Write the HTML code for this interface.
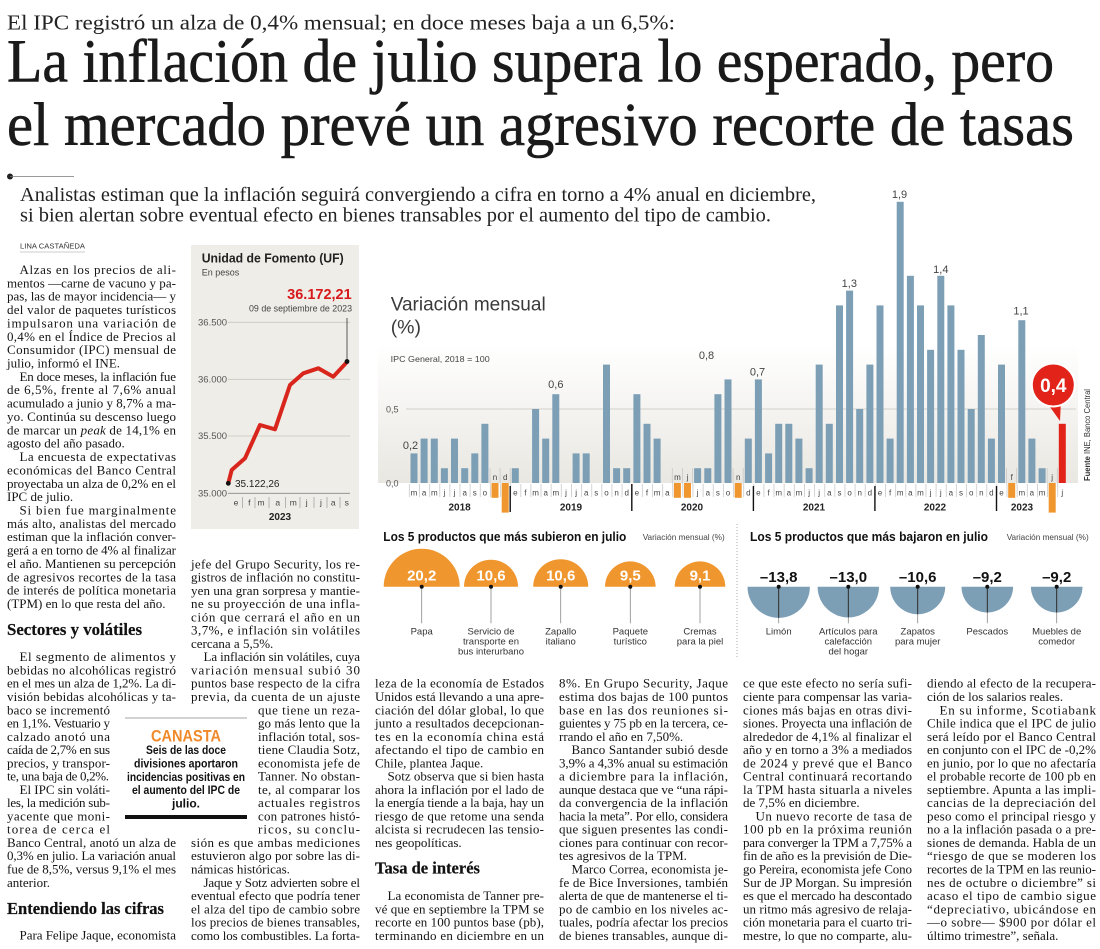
<!DOCTYPE html>
<html lang="es">
<head>
<meta charset="utf-8">
<title>La inflación de julio supera lo esperado</title>
<style>
  html,body{margin:0;padding:0;background:#fff;}
  body{width:1100px;height:949px;overflow:hidden;}
  svg{display:block;}
  .b{font-family:"Liberation Serif",serif;font-size:13px;fill:#141414;}
  .h{font-family:"Liberation Serif",serif;font-size:17px;font-weight:bold;fill:#111;stroke:#111;stroke-width:0.2;}
  .s{font-family:"Liberation Sans",sans-serif;}
  .n{font-family:"Liberation Sans Narrow","Liberation Sans",sans-serif;}
</style>
</head>
<body>
<svg width="1100" height="949" viewBox="0 0 1100 949" xmlns="http://www.w3.org/2000/svg">
<defs>
  <linearGradient id="bg" x1="0" y1="0" x2="0" y2="1">
    <stop offset="0" stop-color="#ffffff"/>
    <stop offset="1" stop-color="#e9e7e1"/>
  </linearGradient>
  <pattern id="sep" patternUnits="userSpaceOnUse" x="408.93" y="0" width="10.13" height="20">
    <rect x="0" y="0" width="0.8" height="20" fill="#c9c9c9"/>
  </pattern>
</defs>
<rect x="0" y="0" width="1100" height="949" fill="#fff"/>

<!-- ===== HEADER ===== -->
<text x="7" y="29.3" font-family="Liberation Serif,serif" font-size="21.6" fill="#222" textLength="668" lengthAdjust="spacingAndGlyphs">El IPC registró un alza de 0,4% mensual; en doce meses baja a un 6,5%:</text>
<text x="7" y="81.7" font-family="Liberation Serif,serif" font-size="61" fill="#1a1a1a" stroke="#1a1a1a" stroke-width="0.6" textLength="1047" lengthAdjust="spacingAndGlyphs">La inflación de julio supera lo esperado, pero</text>
<text x="7" y="145" font-family="Liberation Serif,serif" font-size="61" fill="#1a1a1a" stroke="#1a1a1a" stroke-width="0.6" textLength="1067" lengthAdjust="spacingAndGlyphs">el mercado prevé un agresivo recorte de tasas</text>
<circle cx="10" cy="176.5" r="3" fill="#222"/>
<line x1="10" y1="176.5" x2="74" y2="176.5" stroke="#777" stroke-width="0.8"/>
<text x="20" y="201" font-family="Liberation Serif,serif" font-size="19.5" fill="#222" textLength="796" lengthAdjust="spacingAndGlyphs">Analistas estiman que la inflación seguirá convergiendo a cifra en torno a 4% anual en diciembre,</text>
<text x="20" y="221.7" font-family="Liberation Serif,serif" font-size="19.5" fill="#222" textLength="751" lengthAdjust="spacingAndGlyphs">si bien alertan sobre eventual efecto en bienes transables por el aumento del tipo de cambio.</text>

<text x="20" y="248.5" class="s" font-size="7.5" fill="#333" textLength="65" lengthAdjust="spacingAndGlyphs">LINA CASTAÑEDA</text>
<line x1="20" y1="252" x2="85" y2="252" stroke="#999" stroke-width="0.6"/>

<!-- ===== UF CHART ===== -->
<rect x="191" y="245" width="168" height="284" fill="#efede7"/>
<text x="201.7" y="262.5" class="s" font-size="12.5" font-weight="bold" fill="#222" textLength="142" lengthAdjust="spacingAndGlyphs">Unidad de Fomento (UF)</text>
<text x="201.7" y="275.5" class="s" font-size="9" fill="#444">En pesos</text>
<text x="351.7" y="299" class="s" font-size="14.5" font-weight="bold" fill="#d7191c" text-anchor="end">36.172,21</text>
<text x="352" y="311.5" class="s" font-size="9" fill="#444" text-anchor="end" textLength="103" lengthAdjust="spacingAndGlyphs">09 de septiembre de 2023</text>
<g stroke="#cac6be" stroke-width="0.8">
  <line x1="228" y1="322.3" x2="350" y2="322.3"/>
  <line x1="228" y1="379.3" x2="350" y2="379.3"/>
  <line x1="228" y1="436" x2="350" y2="436"/>
</g>
<line x1="228" y1="493.3" x2="350" y2="493.3" stroke="#888" stroke-width="0.8"/>
<g class="s" font-size="9.5" fill="#555">
  <text x="198" y="325.5">36.500</text>
  <text x="198" y="382.5">36.000</text>
  <text x="198" y="439.2">35.500</text>
  <text x="198" y="496.5">35.000</text>
</g>
<g stroke="#999" stroke-width="0.7">
  <line x1="242.5" y1="497" x2="242.5" y2="508"/>
  <line x1="255" y1="497" x2="255" y2="508"/>
  <line x1="269" y1="497" x2="269" y2="508"/>
  <line x1="285.5" y1="497" x2="285.5" y2="508"/>
  <line x1="300" y1="497" x2="300" y2="508"/>
  <line x1="314" y1="497" x2="314" y2="508"/>
  <line x1="327" y1="497" x2="327" y2="508"/>
  <line x1="340" y1="497" x2="340" y2="508"/>
</g>
<text y="505.5" class="s" font-size="8.5" fill="#444" text-anchor="middle" x="236 249.3 261 277.7 293.3 306.7 321 333.3 346.7">efmamjjas</text>
<text x="280" y="520" class="s" font-size="10" font-weight="bold" fill="#222" text-anchor="middle">2023</text>
<line x1="347" y1="318" x2="347" y2="361" stroke="#333" stroke-width="0.8"/>
<polyline points="228.3,483.3 231.7,470 245,458.3 260,425 275,429.3 290,385 303.3,373.3 318.3,368.3 333.3,376.7 346.7,362.3" fill="none" stroke="#d9261c" stroke-width="4" stroke-linejoin="round" stroke-linecap="round"/>
<circle cx="228.3" cy="483.3" r="2.4" fill="#111"/>
<circle cx="347" cy="361.5" r="2.4" fill="#111"/>
<text x="235" y="486.8" class="s" font-size="10" fill="#222">35.122,26</text>

<!-- ===== BAR CHART ===== -->
<rect x="378" y="345" width="700" height="138" fill="url(#bg)"/>
<text x="390.7" y="310.7" class="s" font-size="19.5" fill="#3a3a3a" textLength="155" lengthAdjust="spacingAndGlyphs">Variación mensual</text>
<text x="390.7" y="333.3" class="s" font-size="19.5" fill="#3a3a3a">(%)</text>
<text x="390.7" y="362" class="s" font-size="8.5" fill="#444" textLength="99" lengthAdjust="spacingAndGlyphs">IPC General, 2018 = 100</text>
<line x1="406" y1="409" x2="1076" y2="409" stroke="#c8c6c0" stroke-width="0.8"/>
<text x="386" y="412.5" class="s" font-size="9" fill="#555">0,5</text>
<text x="386" y="486.5" class="s" font-size="9" fill="#555">0,0</text>

<!-- label row separators -->
<rect x="408" y="484" width="658" height="13" fill="url(#sep)"/>
<g stroke="#c9c9c9" stroke-width="0.8">
  <line x1="490" y1="468" x2="490" y2="484"/><line x1="500.1" y1="468" x2="500.1" y2="484"/><line x1="510.2" y1="468" x2="510.2" y2="484"/>
  <line x1="672.3" y1="468" x2="672.3" y2="484"/><line x1="682.5" y1="468" x2="682.5" y2="484"/><line x1="692.6" y1="468" x2="692.6" y2="484"/>
  <line x1="733.1" y1="468" x2="733.1" y2="484"/><line x1="743.2" y1="468" x2="743.2" y2="484"/>
  <line x1="1006.6" y1="468" x2="1006.6" y2="484"/><line x1="1016.7" y1="468" x2="1016.7" y2="484"/>
  <line x1="1047.2" y1="468" x2="1047.2" y2="484"/><line x1="1057.3" y1="468" x2="1057.3" y2="484"/>
</g>

<g fill="#7d9fb6">
  <rect x="410.5" y="453.4" width="7" height="29.6"/>
  <rect x="420.6" y="438.6" width="7" height="44.4"/>
  <rect x="430.8" y="438.6" width="7" height="44.4"/>
  <rect x="440.9" y="468.2" width="7" height="14.8"/>
  <rect x="451.0" y="438.6" width="7" height="44.4"/>
  <rect x="461.2" y="468.2" width="7" height="14.8"/>
  <rect x="471.3" y="453.4" width="7" height="29.6"/>
  <rect x="481.4" y="423.8" width="7" height="59.2"/>
  <rect x="511.8" y="468.2" width="7" height="14.8"/>
  <rect x="532.1" y="409" width="7" height="74"/>
  <rect x="542.2" y="438.6" width="7" height="44.4"/>
  <rect x="552.3" y="394.2" width="7" height="88.8"/>
  <rect x="572.6" y="453.4" width="7" height="29.6"/>
  <rect x="582.7" y="453.4" width="7" height="29.6"/>
  <rect x="603.0" y="364.6" width="7" height="118.4"/>
  <rect x="613.1" y="468.2" width="7" height="14.8"/>
  <rect x="623.2" y="468.2" width="7" height="14.8"/>
  <rect x="633.4" y="394.2" width="7" height="88.8"/>
  <rect x="643.5" y="423.8" width="7" height="59.2"/>
  <rect x="653.6" y="438.6" width="7" height="44.4"/>
  <rect x="694.1" y="468.2" width="7" height="14.8"/>
  <rect x="704.3" y="468.2" width="7" height="14.8"/>
  <rect x="714.4" y="394.2" width="7" height="88.8"/>
  <rect x="724.5" y="379.4" width="7" height="103.6"/>
  <rect x="744.8" y="438.6" width="7" height="44.4"/>
  <rect x="754.9" y="379.4" width="7" height="103.6"/>
  <rect x="765.1" y="453.4" width="7" height="29.6"/>
  <rect x="775.2" y="423.8" width="7" height="59.2"/>
  <rect x="785.3" y="423.8" width="7" height="59.2"/>
  <rect x="795.4" y="438.6" width="7" height="44.4"/>
  <rect x="805.6" y="468.2" width="7" height="14.8"/>
  <rect x="815.7" y="364.6" width="7" height="118.4"/>
  <rect x="825.8" y="423.8" width="7" height="59.2"/>
  <rect x="836.0" y="305.4" width="7" height="177.6"/>
  <rect x="846.1" y="290.6" width="7" height="192.4"/>
  <rect x="856.2" y="409" width="7" height="74"/>
  <rect x="866.4" y="364.6" width="7" height="118.4"/>
  <rect x="876.5" y="305.4" width="7" height="177.6"/>
  <rect x="886.6" y="438.6" width="7" height="44.4"/>
  <rect x="896.7" y="201.8" width="7" height="281.2"/>
  <rect x="906.9" y="275.8" width="7" height="207.2"/>
  <rect x="917.0" y="305.4" width="7" height="177.6"/>
  <rect x="927.1" y="349.8" width="7" height="133.2"/>
  <rect x="937.3" y="275.8" width="7" height="207.2"/>
  <rect x="947.4" y="305.4" width="7" height="177.6"/>
  <rect x="957.5" y="349.8" width="7" height="133.2"/>
  <rect x="967.7" y="409" width="7" height="74"/>
  <rect x="977.8" y="335" width="7" height="148"/>
  <rect x="987.9" y="438.6" width="7" height="44.4"/>
  <rect x="998.0" y="364.6" width="7" height="118.4"/>
  <rect x="1018.3" y="320.2" width="7" height="162.8"/>
  <rect x="1028.4" y="438.6" width="7" height="44.4"/>
  <rect x="1038.6" y="468.2" width="7" height="14.8"/>
</g>
<g fill="#f0962e">
  <rect x="491.5" y="483" width="7" height="14.8"/>
  <rect x="501.7" y="483" width="7" height="29.6"/>
  <rect x="673.9" y="483" width="7" height="14.8"/>
  <rect x="684.0" y="483" width="7" height="14.8"/>
  <rect x="734.7" y="483" width="7" height="14.8"/>
  <rect x="1008.2" y="483" width="7" height="14.8"/>
  <rect x="1048.7" y="483" width="7" height="29.6"/>
</g>
<rect x="1058.8" y="423.8" width="7" height="59.2" fill="#e2231a"/>

<!-- month letters -->
<text class="s" font-size="8" fill="#444" text-anchor="middle"
 x="414.0 424.1 434.3 444.4 454.5 464.7 474.8 484.9 495.0 505.2 515.3 525.4 535.6 545.7 555.8 566.0 576.1 586.2 596.3 606.5 616.6 626.7 636.9 647.0 657.1 667.3 677.4 687.5 697.6 707.8 717.9 728.0 738.2 748.3 758.4 768.6 778.7 788.8 798.9 809.1 819.2 829.3 839.5 849.6 859.7 869.9 880.0 890.1 900.2 910.4 920.5 930.6 940.8 950.9 961.0 971.2 981.3 991.4 1001.5 1011.7 1021.8 1031.9 1042.1 1052.2 1062.3"
 y="495.5 495.5 495.5 495.5 495.5 495.5 495.5 495.5 480 480 495.5 495.5 495.5 495.5 495.5 495.5 495.5 495.5 495.5 495.5 495.5 495.5 495.5 495.5 495.5 495.5 480 480 495.5 495.5 495.5 495.5 480 495.5 495.5 495.5 495.5 495.5 495.5 495.5 495.5 495.5 495.5 495.5 495.5 495.5 495.5 495.5 495.5 495.5 495.5 495.5 495.5 495.5 495.5 495.5 495.5 495.5 495.5 480 495.5 495.5 495.5 480 495.5">mamjjasondefmamjjasondefmamjjasondefmamjjasondefmamjjasondefmamjj</text>

<!-- year separators -->
<g stroke="#111" stroke-width="1.4">
  <line x1="510.2" y1="486" x2="510.2" y2="512"/>
  <line x1="631.8" y1="484" x2="631.8" y2="511"/>
  <line x1="753.4" y1="486" x2="753.4" y2="511"/>
  <line x1="874.9" y1="486" x2="874.9" y2="511"/>
  <line x1="996.5" y1="486" x2="996.5" y2="511"/>
</g>
<g class="s" font-size="10" font-weight="bold" fill="#222" text-anchor="middle">
  <text x="459.6" y="510.5">2018</text>
  <text x="571" y="510.5">2019</text>
  <text x="692" y="510.5">2020</text>
  <text x="814" y="510.5">2021</text>
  <text x="935" y="510.5">2022</text>
  <text x="1022" y="510.5">2023</text>
</g>

<!-- value labels -->
<g class="s" font-size="11" fill="#444" text-anchor="middle">
  <text x="410.5" y="449">0,2</text>
  <text x="555.8" y="388">0,6</text>
  <text x="706.5" y="359">0,8</text>
  <text x="757.5" y="375.5">0,7</text>
  <text x="849.3" y="287">1,3</text>
  <text x="899.5" y="198">1,9</text>
  <text x="940.8" y="273">1,4</text>
  <text x="1021" y="314.5">1,1</text>
</g>

<!-- red bubble -->
<polygon points="1045,400 1061,400 1060,421" fill="#e2231a"/>
<circle cx="1053.3" cy="385" r="21.5" fill="#e2231a" stroke="#fff" stroke-width="2"/>
<text x="1053.3" y="392" class="s" font-size="19" font-weight="bold" fill="#fff" text-anchor="middle">0,4</text>

<text transform="translate(1090,481) rotate(-90)" class="s" font-size="8" fill="#333" textLength="92" lengthAdjust="spacingAndGlyphs"><tspan font-weight="bold">Fuente</tspan> INE, Banco Central</text>

<!-- ===== PRODUCTS ===== -->
<text x="383.3" y="541" class="n" font-size="13" font-weight="bold" fill="#111" textLength="243" lengthAdjust="spacingAndGlyphs">Los 5 productos que más subieron en julio</text>
<text x="642.7" y="540" class="n" font-size="8.5" fill="#444" textLength="82" lengthAdjust="spacingAndGlyphs">Variación mensual (%)</text>
<text x="750" y="541" class="n" font-size="13" font-weight="bold" fill="#111" textLength="238" lengthAdjust="spacingAndGlyphs">Los 5 productos que más bajaron en julio</text>
<text x="1006.7" y="540" class="n" font-size="8.5" fill="#444" textLength="82" lengthAdjust="spacingAndGlyphs">Variación mensual (%)</text>
<line x1="737" y1="524" x2="737" y2="658" stroke="#999" stroke-width="0.8" stroke-dasharray="1,2"/>

<g fill="#f0962e">
  <path d="M383.7,586.7 A38,38 0 0 1 459.7,586.7 Z"/>
  <path d="M464,586.7 A27,27 0 0 1 518,586.7 Z"/>
  <path d="M533.2,586.7 A27.5,27.5 0 0 1 588.2,586.7 Z"/>
  <path d="M605,586.7 A25.3,25.3 0 0 1 655.6,586.7 Z"/>
  <path d="M674.7,586.7 A25.3,25.3 0 0 1 725.3,586.7 Z"/>
</g>
<g fill="#7d9fb6">
  <path d="M747.5,586.7 A31.2,31.2 0 0 0 809.9,586.7 Z"/>
  <path d="M817.6,586.7 A30.7,30.7 0 0 0 879,586.7 Z"/>
  <path d="M890.2,586.7 A27.5,27.5 0 0 0 945.2,586.7 Z"/>
  <path d="M961.5,586.7 A25.8,25.8 0 0 0 1013.1,586.7 Z"/>
  <path d="M1030.9,586.7 A25.8,25.8 0 0 0 1082.5,586.7 Z"/>
</g>
<g stroke="#888" stroke-width="0.8">
  <line x1="421.7" y1="586.7" x2="421.7" y2="623.3"/>
  <line x1="491" y1="586.7" x2="491" y2="623.3"/>
  <line x1="560.7" y1="586.7" x2="560.7" y2="623.3"/>
  <line x1="630.3" y1="586.7" x2="630.3" y2="623.3"/>
  <line x1="700" y1="586.7" x2="700" y2="623.3"/>
  <line x1="778.7" y1="586.7" x2="778.7" y2="623.3"/>
  <line x1="848.3" y1="586.7" x2="848.3" y2="623.3"/>
  <line x1="917.7" y1="586.7" x2="917.7" y2="623.3"/>
  <line x1="987.3" y1="586.7" x2="987.3" y2="623.3"/>
  <line x1="1056.7" y1="586.7" x2="1056.7" y2="623.3"/>
</g>
<g stroke="#222" stroke-width="0.9">
  <line x1="778.7" y1="586.7" x2="778.7" y2="617.9"/>
  <line x1="848.3" y1="586.7" x2="848.3" y2="617.4"/>
  <line x1="917.7" y1="586.7" x2="917.7" y2="614.2"/>
  <line x1="987.3" y1="586.7" x2="987.3" y2="612.5"/>
  <line x1="1056.7" y1="586.7" x2="1056.7" y2="612.5"/>
</g>
<g fill="#111">
  <circle cx="421.7" cy="586.7" r="2"/><circle cx="491" cy="586.7" r="2"/><circle cx="560.7" cy="586.7" r="2"/><circle cx="630.3" cy="586.7" r="2"/><circle cx="700" cy="586.7" r="2"/>
  <circle cx="778.7" cy="586.7" r="2"/><circle cx="848.3" cy="586.7" r="2"/><circle cx="917.7" cy="586.7" r="2"/><circle cx="987.3" cy="586.7" r="2"/><circle cx="1056.7" cy="586.7" r="2"/>
</g>
<g class="s" font-size="15" font-weight="bold" fill="#fff" text-anchor="middle">
  <text x="421.7" y="580.5">20,2</text>
  <text x="491" y="580.5">10,6</text>
  <text x="560.7" y="580.5">10,6</text>
  <text x="630.3" y="580.5">9,5</text>
  <text x="700" y="580.5">9,1</text>
</g>
<g class="s" font-size="15" font-weight="bold" fill="#111" text-anchor="middle">
  <text x="778.7" y="582">–13,8</text>
  <text x="848.3" y="582">–13,0</text>
  <text x="917.7" y="582">–10,6</text>
  <text x="987.3" y="582">–9,2</text>
  <text x="1056.7" y="582">–9,2</text>
</g>
<g class="n" font-size="9.5" fill="#333" text-anchor="middle">
  <text x="421.7" y="634.5">Papa</text>
  <text x="491" y="634.5">Servicio de</text><text x="491" y="644.5">transporte en</text><text x="491" y="654.5">bus interurbano</text>
  <text x="560.7" y="634.5">Zapallo</text><text x="560.7" y="644.5">italiano</text>
  <text x="630.3" y="634.5">Paquete</text><text x="630.3" y="644.5">turístico</text>
  <text x="700" y="634.5">Cremas</text><text x="700" y="644.5">para la piel</text>
  <text x="778.7" y="634.5">Limón</text>
  <text x="848.3" y="634.5">Artículos para</text><text x="848.3" y="644.5">calefacción</text><text x="848.3" y="654.5">del hogar</text>
  <text x="917.7" y="634.5">Zapatos</text><text x="917.7" y="644.5">para mujer</text>
  <text x="987.3" y="634.5">Pescados</text>
  <text x="1056.7" y="634.5">Muebles de</text><text x="1056.7" y="644.5">comedor</text>
</g>

<!-- ===== CANASTA BOX ===== -->
<line x1="125" y1="718" x2="247" y2="718" stroke="#888" stroke-width="0.8"/>
<text x="186" y="741.5" class="n" font-size="17" font-weight="bold" fill="#f0892a" text-anchor="middle" textLength="70" lengthAdjust="spacingAndGlyphs">CANASTA</text>
<g class="n" font-size="12" font-weight="bold" fill="#111" text-anchor="middle">
  <text x="186" y="754" textLength="80" lengthAdjust="spacingAndGlyphs">Seis de las doce</text>
  <text x="186" y="767.5" textLength="104" lengthAdjust="spacingAndGlyphs">divisiones aportaron</text>
  <text x="186" y="781" textLength="118" lengthAdjust="spacingAndGlyphs">incidencias positivas en</text>
  <text x="186" y="794" textLength="108" lengthAdjust="spacingAndGlyphs">el aumento del IPC de</text>
  <text x="186" y="807.5">julio.</text>
</g>
<rect x="125" y="815" width="122" height="4" fill="#111"/>

<!-- ===== BODY COLUMN 1 ===== -->
<g class="b">
<text x="19.5" y="274" textLength="156.5">Alzas en los precios de ali-</text>
<text x="7" y="287.4" textLength="169">mentos —carne de vacuno y pa-</text>
<text x="7" y="300.7" textLength="169">pas, las de mayor incidencia— y</text>
<text x="7" y="314.1" textLength="169">del valor de paquetes turísticos</text>
<text x="7" y="327.4" textLength="169">impulsaron una variación de</text>
<text x="7" y="340.8" textLength="169">0,4% en el Índice de Precios al</text>
<text x="7" y="354.2" textLength="169">Consumidor (IPC) mensual de</text>
<text x="7" y="367.5">julio, informó el INE.</text>
<text x="19.5" y="380.9" textLength="156.5">En doce meses, la inflación fue</text>
<text x="7" y="394.2" textLength="169">de 6,5%, frente al 7,6% anual</text>
<text x="7" y="407.6" textLength="169">acumulado a junio y 8,7% a ma-</text>
<text x="7" y="421" textLength="169">yo. Continúa su descenso luego</text>
<text x="7" y="434.3" textLength="169">de marcar un <tspan font-style="italic">peak</tspan> de 14,1% en</text>
<text x="7" y="447.7">agosto del año pasado.</text>
<text x="19.5" y="461" textLength="156.5">La encuesta de expectativas</text>
<text x="7" y="474.4" textLength="169">económicas del Banco Central</text>
<text x="7" y="487.8" textLength="169">proyectaba un alza de 0,2% en el</text>
<text x="7" y="501.1">IPC de julio.</text>
<text x="19.5" y="514.5" textLength="156.5">Si bien fue marginalmente</text>
<text x="7" y="527.8" textLength="169">más alto, analistas del mercado</text>
<text x="7" y="541.2" textLength="169">estiman que la inflación conver-</text>
<text x="7" y="554.6" textLength="169">gerá a en torno de 4% al finalizar</text>
<text x="7" y="567.9" textLength="169">el año. Mantienen su percepción</text>
<text x="7" y="581.3" textLength="169">de agresivos recortes de la tasa</text>
<text x="7" y="594.6" textLength="169">de interés de política monetaria</text>
<text x="7" y="608">(TPM) en lo que resta del año.</text>

<text x="19.5" y="661.2" textLength="156.5">El segmento de alimentos y</text>
<text x="7" y="674.5" textLength="169">bebidas no alcohólicas registró</text>
<text x="7" y="687.7" textLength="169">en el mes un alza de 1,2%. La di-</text>
<text x="7" y="701" textLength="169">visión bebidas alcohólicas y ta-</text>
<text x="7" y="714.3" textLength="103">baco se incrementó</text>
<text x="7" y="727.5" textLength="103">en 1,1%. Vestuario y</text>
<text x="7" y="740.8" textLength="103">calzado anotó una</text>
<text x="7" y="754.1" textLength="103">caída de 2,7% en sus</text>
<text x="7" y="767.4" textLength="103">precios, y transpor-</text>
<text x="7" y="780.6" textLength="102">te, una baja de 0,2%.</text>
<text x="19.5" y="793.9" textLength="90.5">El IPC sin voláti-</text>
<text x="7" y="807.2" textLength="103">les, la medición sub-</text>
<text x="7" y="820.4" textLength="103">yacente que moni-</text>
<text x="7" y="833.7" textLength="103">torea de cerca el</text>
<text x="7" y="847" textLength="169">Banco Central, anotó un alza de</text>
<text x="7" y="860.2" textLength="169">0,3% en julio. La variación anual</text>
<text x="7" y="873.5" textLength="169">fue de 8,5%, versus 9,1% el mes</text>
<text x="7" y="886.8">anterior.</text>
<text x="19.5" y="939.5" textLength="156.5">Para Felipe Jaque, economista</text>
</g>
<text x="7" y="635" class="h" textLength="135" lengthAdjust="spacingAndGlyphs">Sectores y volátiles</text>
<text x="7" y="914" class="h" textLength="157" lengthAdjust="spacingAndGlyphs">Entendiendo las cifras</text>

<!-- ===== BODY COLUMN 2 ===== -->
<g class="b">
<text x="191" y="568.3" textLength="169">jefe del Grupo Security, los re-</text>
<text x="191" y="581.6" textLength="169">gistros de inflación no constitu-</text>
<text x="191" y="594.8" textLength="169">yen una gran sorpresa y mantie-</text>
<text x="191" y="608.1" textLength="169">ne su proyección de una infla-</text>
<text x="191" y="621.4" textLength="169">ción que cerrará el año en un</text>
<text x="191" y="634.7" textLength="169">3,7%, e inflación sin volátiles</text>
<text x="191" y="647.9">cercana a 5,5%.</text>
<text x="203.5" y="661.2" textLength="156.5">La inflación sin volátiles, cuya</text>
<text x="191" y="674.5" textLength="169">variación mensual subió 30</text>
<text x="191" y="687.7" textLength="169">puntos base respecto de la cifra</text>
<text x="191" y="701" textLength="169">previa, da cuenta de un ajuste</text>
<text x="258" y="714.3" textLength="102">que tiene un reza-</text>
<text x="258" y="727.5" textLength="102">go más lento que la</text>
<text x="258" y="740.8" textLength="102">inflación total, sos-</text>
<text x="258" y="754.1" textLength="102">tiene Claudia Sotz,</text>
<text x="258" y="767.4" textLength="102">economista jefe de</text>
<text x="258" y="780.6" textLength="102">Tanner. No obstan-</text>
<text x="258" y="793.9" textLength="102">te, al comparar los</text>
<text x="258" y="807.2" textLength="102">actuales registros</text>
<text x="258" y="820.4" textLength="102">con patrones histó-</text>
<text x="258" y="833.7" textLength="102">ricos, su conclu-</text>
<text x="191" y="847" textLength="169">sión es que ambas mediciones</text>
<text x="191" y="860.2" textLength="169">estuvieron algo por sobre las di-</text>
<text x="191" y="873.5">námicas históricas.</text>
<text x="203.5" y="886.8" textLength="156.5">Jaque y Sotz advierten sobre el</text>
<text x="191" y="900.1" textLength="169">eventual efecto que podría tener</text>
<text x="191" y="913.3" textLength="169">el alza del tipo de cambio sobre</text>
<text x="191" y="926.6" textLength="169">los precios de bienes transables,</text>
<text x="191" y="939.9" textLength="169">como los combustibles. La forta-</text>
</g>

<!-- ===== BODY COLUMN 3 ===== -->
<g class="b">
<text x="375" y="687.7" textLength="169">leza de la economía de Estados</text>
<text x="375" y="701" textLength="169">Unidos está llevando a una apre-</text>
<text x="375" y="714.3" textLength="169">ciación del dólar global, lo que</text>
<text x="375" y="727.5" textLength="169">junto a resultados decepcionan-</text>
<text x="375" y="740.8" textLength="169">tes en la economía china está</text>
<text x="375" y="754.1" textLength="169">afectando el tipo de cambio en</text>
<text x="375" y="767.4">Chile, plantea Jaque.</text>
<text x="387.5" y="780.6" textLength="156.5">Sotz observa que si bien hasta</text>
<text x="375" y="793.9" textLength="169">ahora la inflación por el lado de</text>
<text x="375" y="807.2" textLength="169">la energía tiende a la baja, hay un</text>
<text x="375" y="820.4" textLength="169">riesgo de que retome una senda</text>
<text x="375" y="833.7" textLength="169">alcista si recrudecen las tensio-</text>
<text x="375" y="847">nes geopolíticas.</text>
<text x="387.5" y="900.1" textLength="156.5">La economista de Tanner pre-</text>
<text x="375" y="913.3" textLength="169">vé que en septiembre la TPM se</text>
<text x="375" y="926.6" textLength="169">recorte en 100 puntos base (pb),</text>
<text x="375" y="939.9" textLength="169">terminando en diciembre en un</text>
</g>
<text x="375" y="873.5" class="h" textLength="105" lengthAdjust="spacingAndGlyphs">Tasa de interés</text>

<!-- ===== BODY COLUMN 4 ===== -->
<g class="b">
<text x="559" y="687.7" textLength="169">8%. En Grupo Security, Jaque</text>
<text x="559" y="701" textLength="169">estima dos bajas de 100 puntos</text>
<text x="559" y="714.3" textLength="169">base en las dos reuniones si-</text>
<text x="559" y="727.5" textLength="169">guientes y 75 pb en la tercera, ce-</text>
<text x="559" y="740.8">rrando el año en 7,50%.</text>
<text x="571.5" y="754.1" textLength="156.5">Banco Santander subió desde</text>
<text x="559" y="767.4" textLength="169">3,9% a 4,3% anual su estimación</text>
<text x="559" y="780.6" textLength="169">a diciembre para la inflación,</text>
<text x="559" y="793.9" textLength="169">aunque destaca que ve “una rápi-</text>
<text x="559" y="807.2" textLength="169">da convergencia de la inflación</text>
<text x="559" y="820.4" textLength="169">hacia la meta”. Por ello, considera</text>
<text x="559" y="833.7" textLength="169">que siguen presentes las condi-</text>
<text x="559" y="847" textLength="169">ciones para continuar con recor-</text>
<text x="559" y="860.2">tes agresivos de la TPM.</text>
<text x="571.5" y="873.5" textLength="156.5">Marco Correa, economista je-</text>
<text x="559" y="886.8" textLength="169">fe de Bice Inversiones, también</text>
<text x="559" y="900.1" textLength="169">alerta de que de mantenerse el ti-</text>
<text x="559" y="913.3" textLength="169">po de cambio en los niveles ac-</text>
<text x="559" y="926.6" textLength="169">tuales, podría afectar los precios</text>
<text x="559" y="939.9" textLength="169">de bienes transables, aunque di-</text>
</g>

<!-- ===== BODY COLUMN 5 ===== -->
<g class="b">
<text x="743" y="687.7" textLength="169">ce que este efecto no sería sufi-</text>
<text x="743" y="701" textLength="169">ciente para compensar las varia-</text>
<text x="743" y="714.3" textLength="169">ciones más bajas en otras divi-</text>
<text x="743" y="727.5" textLength="169">siones. Proyecta una inflación de</text>
<text x="743" y="740.8" textLength="169">alrededor de 4,1% al finalizar el</text>
<text x="743" y="754.1" textLength="169">año y en torno a 3% a mediados</text>
<text x="743" y="767.4" textLength="169">de 2024 y prevé que el Banco</text>
<text x="743" y="780.6" textLength="169">Central continuará recortando</text>
<text x="743" y="793.9" textLength="169">la TPM hasta situarla a niveles</text>
<text x="743" y="807.2">de 7,5% en diciembre.</text>
<text x="755.5" y="820.4" textLength="156.5">Un nuevo recorte de tasa de</text>
<text x="743" y="833.7" textLength="169">100 pb en la próxima reunión</text>
<text x="743" y="847" textLength="169">para converger la TPM a 7,75% a</text>
<text x="743" y="860.2" textLength="169">fin de año es la previsión de Die-</text>
<text x="743" y="873.5" textLength="169">go Pereira, economista jefe Cono</text>
<text x="743" y="886.8" textLength="169">Sur de JP Morgan. Su impresión</text>
<text x="743" y="900.1" textLength="169">es que el mercado ha descontado</text>
<text x="743" y="913.3" textLength="169">un ritmo más agresivo de relaja-</text>
<text x="743" y="926.6" textLength="169">ción monetaria para el cuarto tri-</text>
<text x="743" y="939.9" textLength="169">mestre, lo que no comparte, alu-</text>
</g>

<!-- ===== BODY COLUMN 6 ===== -->
<g class="b">
<text x="927" y="687.7" textLength="169">diendo al efecto de la recupera-</text>
<text x="927" y="701">ción de los salarios reales.</text>
<text x="939.5" y="714.3" textLength="156.5">En su informe, Scotiabank</text>
<text x="927" y="727.5" textLength="169">Chile indica que el IPC de julio</text>
<text x="927" y="740.8" textLength="169">será leído por el Banco Central</text>
<text x="927" y="754.1" textLength="169">en conjunto con el IPC de -0,2%</text>
<text x="927" y="767.4" textLength="169">en junio, por lo que no afectaría</text>
<text x="927" y="780.6" textLength="169">el probable recorte de 100 pb en</text>
<text x="927" y="793.9" textLength="169">septiembre. Apunta a las impli-</text>
<text x="927" y="807.2" textLength="169">cancias de la depreciación del</text>
<text x="927" y="820.4" textLength="169">peso como el principal riesgo y</text>
<text x="927" y="833.7" textLength="169">no a la inflación pasada o a pre-</text>
<text x="927" y="847" textLength="169">siones de demanda. Habla de un</text>
<text x="927" y="860.2" textLength="169">“riesgo de que se moderen los</text>
<text x="927" y="873.5" textLength="169">recortes de la TPM en las reunio-</text>
<text x="927" y="886.8" textLength="169">nes de octubre o diciembre” si</text>
<text x="927" y="900.1" textLength="169">acaso el tipo de cambio sigue</text>
<text x="927" y="913.3" textLength="169">“depreciativo, ubicándose en</text>
<text x="927" y="926.6" textLength="169">—o sobre— $900 por dólar el</text>
<text x="927" y="939.9">último trimestre”, señala.</text>
</g>
</svg>
</body>
</html>
